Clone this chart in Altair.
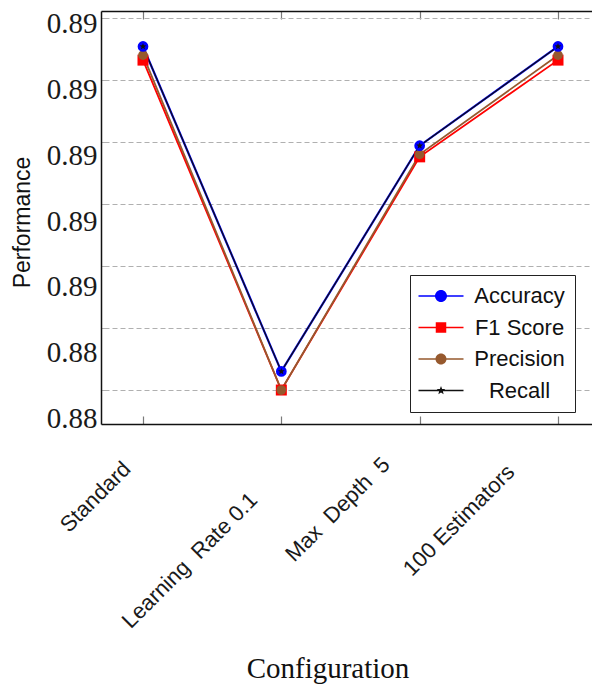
import json
import math
import altair as alt
import pandas as pd

# ---------------- data ----------------
configs = ["Standard", "Learning\u00a0 Rate 0.1", "Max\u00a0 Depth\u00a0 5", "100 Estimators"]
metrics = ["Accuracy", "F1 Score", "Precision", "Recall"]
accuracy = [0.88677, 0.88415, 0.88597, 0.88677]
f1_score = [0.88666, 0.88400, 0.88588, 0.88666]
precision = [0.88670, 0.88400, 0.88590, 0.88670]
recall = [0.88677, 0.88415, 0.88597, 0.88677]
y_ticks = [0.8840, 0.8845, 0.8850, 0.8855, 0.8860, 0.8865, 0.8870]

series = {"Accuracy": accuracy, "F1 Score": f1_score, "Precision": precision, "Recall": recall}
rows = [
    {"idx": i, "config": configs[i], "metric": m, "value": v}
    for m in metrics
    for i, v in enumerate(series[m])
]
df = pd.DataFrame(rows)

# ---------------- style ----------------
color_map = {"Accuracy": "#0000ff", "F1 Score": "#ff0000", "Precision": "#96592e", "Recall": "#111111"}
line_width = {"Accuracy": 2.2, "F1 Score": 1.8, "Precision": 1.8, "Recall": 1.2}
SANS = "Liberation Sans"
SERIF = "Liberation Serif"

Y_MIN, Y_MAX = 0.883726, 0.887056


def star_path(R, r):
    pts = []
    for k in range(10):
        ang = math.radians(-90 + 36 * k)
        rad = R if k % 2 == 0 else r
        pts.append((rad * math.cos(ang), rad * math.sin(ang)))
    return "M" + "L".join(f"{x:.3f},{y:.3f}" for x, y in pts) + "Z"


def circ(r):
    return f"M{-r},0A{r},{r} 0 1,1 {r},0A{r},{r} 0 1,1 {-r},0Z"


seg = "M-4.5,-0.16H4.5V0.16H-4.5Z"
legend_paths = [
    seg + circ(1.2),
    seg + "M-1.05,-1.05H1.05V1.05H-1.05Z",
    seg + circ(1.1),
    seg + star_path(0.9, 0.38),
]

xscale = alt.Scale(domain=[-0.3036, 3.2458], nice=False, zero=False)
yscale = alt.Scale(domain=[Y_MIN, Y_MAX], nice=False, zero=False)

x_off = [-48, -92, -82.5, -99.5]
x_pad = [72.5, 136, 85, 96]

bottom_axis = alt.Axis(
    values=[0, 1, 2, 3],
    labelExpr=json.dumps(configs, ensure_ascii=False) + "[datum.value]",
    labelAngle=315,
    labelAlign="center",
    labelBaseline="middle",
    labelOffset={"expr": json.dumps(x_off) + "[datum.value]"},
    labelPadding={"expr": json.dumps(x_pad) + "[datum.value]"},
    labelFont=SANS,
    labelFontSize=22,
    labelColor="#1a1a1a",
    labelLimit=400,
    labelOverlap=False,
    labelFlush=False,
    ticks=False,
    domain=True,
    domainColor="#111111",
    domainWidth=1.5,
    grid=True,
    gridDash=[8, 397, 8, 200],
    gridColor="#7a7a7a",
    gridWidth=1.2,
    title="Configuration",
    titleFont=SERIF,
    titleFontSize=29,
    titleFontWeight="normal",
    titleColor="#111111",
    titleX=226.5,
    titleY=253,
    titleAlign="center",
    titleBaseline="alphabetic",
)

top_test = f"datum.value > {Y_MAX - 0.00002}"
ydash = [8, 3] + [5, 3] * 70
left_axis = alt.Axis(
    values=y_ticks + [Y_MAX],
    labelExpr=f"{top_test} ? '' : format(datum.value, '.2f')",
    labelFont=SERIF,
    labelFontSize=29,
    labelColor="#1a1a1a",
    labelPadding=4,
    labelBaseline="middle",
    labelOffset={"expr": "5.5 + (0.887 - datum.value) / 0.0005 * 3.85"},
    labelOverlap=False,
    labelFlush=False,
    ticks=False,
    grid=True,
    gridDash={"condition": {"test": top_test, "value": [1, 0]}, "value": ydash},
    gridColor={"condition": {"test": top_test, "value": "#111111"}, "value": "#b0b0b0"},
    gridWidth={"condition": {"test": top_test, "value": 1.5}, "value": 1},
    domain=True,
    domainColor="#111111",
    domainWidth=1.5,
    title="Performance",
    titleFont=SANS,
    titleFontSize=23,
    titleFontWeight="normal",
    titleColor="#111111",
    titleAngle=270,
    titleX=-72,
    titleY=211,
    titleAlign="center",
    titleBaseline="alphabetic",
)

X = alt.X("idx:Q", scale=xscale, axis=bottom_axis)
Y = alt.Y("value:Q", scale=yscale, axis=left_axis)

base = alt.Chart(df)
layers = []

# lines
for m in metrics:
    layers.append(
        base.transform_filter(alt.datum.metric == m)
        .mark_line(strokeWidth=line_width[m], color=color_map[m])
        .encode(x=X, y=Y, order="idx:Q")
    )

# markers
marker_spec = [
    ("F1 Score", "square", 121),
    ("Precision", "circle", 95),
    ("Accuracy", "circle", 115),
    ("Recall", star_path(1.0, 0.42), 50),
]
for m, shp, sz in marker_spec:
    layers.append(
        base.transform_filter(alt.datum.metric == m)
        .mark_point(shape=shp, size=sz, filled=True, opacity=1, color=color_map[m], strokeWidth=0)
        .encode(x=X, y=Y)
    )

leg = alt.Legend(
    title=None,
    orient="none",
    legendX=309,
    legendY=264,
    direction="vertical",
    fillColor="white",
    strokeColor="#222222",
    padding=10,
    rowPadding=9.5,
    symbolOffset=10,
    symbolSize=100,
    symbolStrokeWidth=0,
    symbolOpacity=1,
    labelAlign="center",
    labelOffset=67.5,
    labelFont=SANS,
    labelFontSize=22,
    labelColor="#111111",
    labelExpr="datum.label + '\u2002\u2009'",
)

# legend carrier (no visible marks)
layers.append(
    base.transform_filter("false")
    .mark_point(filled=True, opacity=1, size=100)
    .encode(
        x=X,
        y=Y,
        color=alt.Color("metric:N", scale=alt.Scale(domain=metrics, range=[color_map[m] for m in metrics]), legend=leg),
        shape=alt.Shape("metric:N", scale=alt.Scale(domain=metrics, range=legend_paths), legend=leg),
    )
)

chart = (
    alt.layer(*layers)
    .properties(
        width=491,
        height=413,
        padding={"left": 101, "top": 11, "right": 0, "bottom": 261},
        autosize=alt.AutoSizeParams(type="none"),
        background="white",
    )
    .configure_view(stroke=None)
)

chart.save("out.html", embed_options={"renderer": "svg", "actions": False})
